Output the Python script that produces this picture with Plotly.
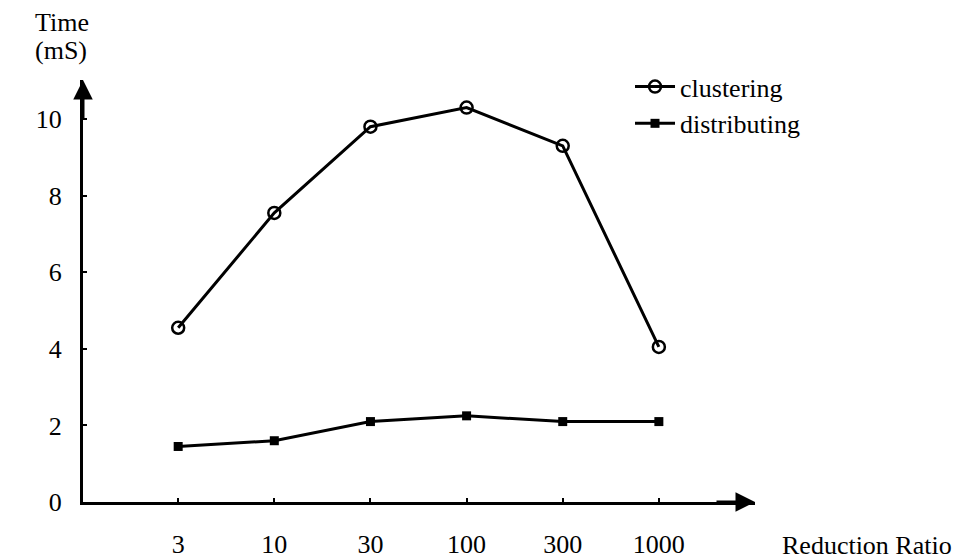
import plotly.graph_objects as go

ratios = ["3", "10", "30", "100", "300", "1000"]
clustering = [4.55, 7.55, 9.8, 10.3, 9.3, 4.05]
distributing = [1.45, 1.6, 2.1, 2.25, 2.1, 2.1]
y_ticks = [0, 2, 4, 6, 8, 10]

FONT = "Liberation Serif"
FS = 26

fig = go.Figure()
fig.add_trace(go.Scatter(
    x=ratios, y=clustering, name="clustering", mode="lines+markers",
    line=dict(color="black", width=3),
    marker=dict(symbol="circle-open", size=12, color="black", line=dict(width=2.5)),
))
fig.add_trace(go.Scatter(
    x=ratios, y=distributing, name="distributing", mode="lines+markers",
    line=dict(color="black", width=3),
    marker=dict(symbol="square", size=9, color="black"),
))

fig.update_layout(
    width=968, height=559,
    margin=dict(l=83, r=213, t=80, b=57, autoexpand=False),
    paper_bgcolor="white", plot_bgcolor="white",
    font=dict(family=FONT, size=FS, color="black"),
    showlegend=True,
    legend=dict(x=0.814, y=1.04, xanchor="left", yanchor="top",
                bgcolor="rgba(0,0,0,0)", font=dict(size=FS),
                itemwidth=40, tracegroupgap=0),
    xaxis=dict(type="category", categoryorder="array", categoryarray=ratios,
               range=[-0.99, 6.0], showline=True, linecolor="black", linewidth=3,
               showgrid=False, zeroline=False, ticks="inside", ticklen=4,
               tickwidth=2, tickcolor="black", ticklabelstandoff=17, automargin=False,
               tickfont=dict(family=FONT, size=FS)),
    yaxis=dict(range=[0, 11.02], tickvals=y_ticks, showline=True, linecolor="black",
               linewidth=3, showgrid=False, zeroline=False, ticks="inside", ticklen=4,
               tickwidth=2, tickcolor="black", ticklabelstandoff=13, automargin=False,
               tickfont=dict(family=FONT, size=FS)),
)

# axis arrowheads
fig.add_annotation(x=1.0, y=0, xref="paper", yref="paper", text="", showarrow=True,
                   ax=-40, ay=0, arrowhead=2, arrowsize=1.3, arrowwidth=3, arrowcolor="black")
fig.add_annotation(x=0, y=1.0, xref="paper", yref="paper", text="", showarrow=True,
                   ax=0, ay=40, arrowhead=2, arrowsize=1.3, arrowwidth=3, arrowcolor="black")

# axis titles
fig.add_annotation(x=-0.074, y=1.137, xref="paper", yref="paper", text="Time",
                   showarrow=False, xanchor="left", yanchor="middle", font=dict(size=FS))
fig.add_annotation(x=-0.074, y=1.07, xref="paper", yref="paper", text="(mS)",
                   showarrow=False, xanchor="left", yanchor="middle", font=dict(size=FS))
fig.add_annotation(x=1.037, y=-0.102, xref="paper", yref="paper", text="Reduction Ratio",
                   showarrow=False, xanchor="left", yanchor="middle", font=dict(size=FS))

fig.write_html("out.html", config={"displayModeBar": False},
               post_script="document.body.style.margin='0';document.body.style.overflow='hidden';")
